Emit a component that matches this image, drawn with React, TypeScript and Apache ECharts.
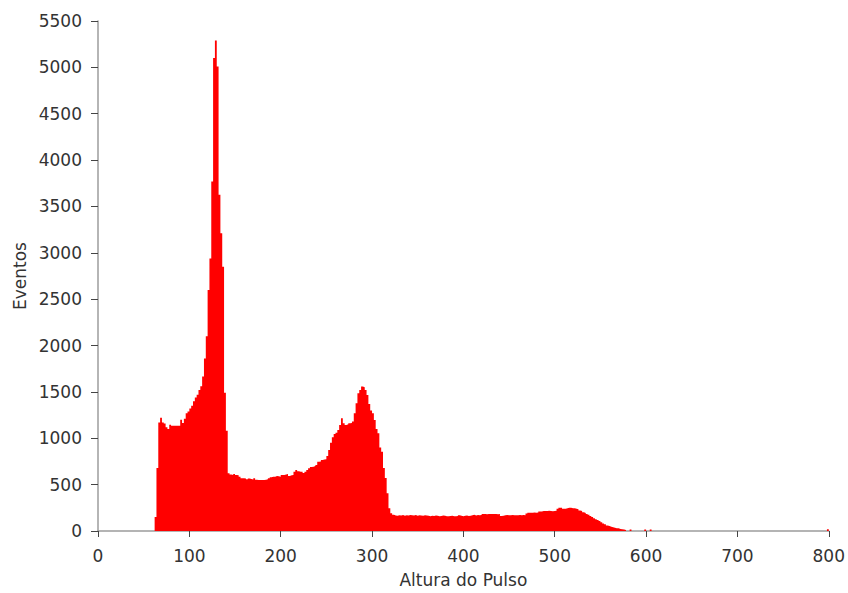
import React, { useEffect, useRef } from "react";
import * as echarts from "echarts";

// Pulse-height histogram: bins of 2 channels, starting at channel 62
const FIRST_BIN = 62;
const BIN_WIDTH = 2;

// Counts per bin, ten bins per row (row start channel in the comment)
const counts = [
  /* 62 */ 150, 680, 1170, 1220, 1170, 1160, 1120, 1100, 1145, 1135,
  /* 82 */ 1135, 1135, 1135, 1135, 1200, 1165, 1210, 1270, 1290, 1320,
  /* 102 */ 1350, 1400, 1440, 1470, 1520, 1560, 1665, 1860, 2100, 2600,
  /* 122 */ 2940, 3770, 5100, 5290, 5010, 3625, 3210, 2850, 1490, 1080,
  /* 142 */ 622, 610, 604, 614, 604, 600, 586, 568, 568, 565,
  /* 162 */ 557, 565, 560, 555, 568, 552, 550, 550, 550, 550,
  /* 182 */ 552, 557, 568, 580, 586, 586, 593, 590, 586, 604,
  /* 202 */ 604, 610, 614, 593, 600, 604, 640, 658, 645, 640,
  /* 222 */ 640, 625, 640, 658, 676, 690, 694, 701, 712, 748,
  /* 242 */ 750, 766, 770, 773, 809, 874, 953, 1011, 1047, 1060,
  /* 262 */ 1090, 1144, 1216, 1162, 1144, 1150, 1162, 1165, 1180, 1270,
  /* 282 */ 1378, 1486, 1520, 1557, 1550, 1521, 1467, 1370, 1300, 1270,
  /* 302 */ 1198, 1100, 1054, 900, 856, 680, 572, 407, 245, 191,
  /* 322 */ 175, 168, 165, 170, 168, 172, 165, 170, 168, 172,
  /* 342 */ 170, 168, 172, 165, 170, 168, 165, 170, 168, 165,
  /* 362 */ 160, 165, 162, 168, 165, 160, 162, 168, 165, 160,
  /* 382 */ 158, 162, 165, 160, 158, 162, 170, 165, 160, 165,
  /* 402 */ 168, 162, 165, 170, 175, 168, 172, 170, 173, 184,
  /* 422 */ 184, 180, 184, 184, 184, 182, 184, 180, 184, 162,
  /* 442 */ 165, 169, 172, 169, 169, 172, 169, 169, 169, 173,
  /* 462 */ 169, 173, 169, 190, 198, 198, 198, 200, 198, 200,
  /* 482 */ 209, 209, 216, 216, 216, 218, 216, 214, 216, 218,
  /* 502 */ 240, 252, 252, 241, 241, 245, 252, 252, 245, 245,
  /* 522 */ 240, 234, 220, 215, 202, 195, 184, 175, 162, 150,
  /* 542 */ 137, 128, 119, 108, 94, 82, 72, 60, 54, 47,
  /* 562 */ 40, 36, 30, 29, 22, 18, 15, 12, 0, 0,
  /* 582 */ 15, 0, 0, 0, 0, 0, 0, 0, 15, 0,
  /* 602 */ 0, 15, 0,
];

// Lone bin at the top of the range
const outlierBins = [798];
const outlierCounts = [18];

const X_MIN = 0;
const X_MAX = 800;
const X_STEP = 100;
const Y_MIN = 0;
const Y_MAX = 5500;
const Y_STEP = 500;

const FONT = "DejaVu Sans";
const TEXT_COLOR = "#333333";
const AXIS_COLOR = "#9c9c9c";
const TICK_COLOR = "#444444";
const FILL = "#ff0000";

// Step points [bin start, count]; a stepped line with "end" steps draws the histogram outline
function histogramPoints(): [number, number][] {
  const pts: [number, number][] = [];
  counts.forEach((c, i) => pts.push([FIRST_BIN + i * BIN_WIDTH, c]));
  pts.push([FIRST_BIN + counts.length * BIN_WIDTH, 0]);
  outlierBins.forEach((b, i) => {
    pts.push([b, outlierCounts[i]]);
    pts.push([b + BIN_WIDTH, 0]);
  });
  return pts;
}

const plain = (v: number) => String(v);

export default function App() {
  const ref = useRef<HTMLDivElement>(null);

  useEffect(() => {
    if (!ref.current) return;
    const chart = echarts.init(ref.current, undefined, { renderer: "svg" });
    const labelStyle = { color: TEXT_COLOR, fontSize: 17, fontFamily: FONT };

    chart.setOption({
      animation: false,
      backgroundColor: "#ffffff",
      grid: { left: 98, right: 18, top: 21, bottom: 62, containLabel: false },
      xAxis: [
        {
          type: "value",
          position: "bottom",
          min: X_MIN,
          max: X_MAX,
          interval: X_STEP,
          axisLine: { show: true, onZero: false, lineStyle: { color: AXIS_COLOR, width: 1.5 } },
          axisTick: { show: false },
          axisLabel: { show: false },
          splitLine: { show: false },
          name: "Altura do Pulso",
          nameLocation: "middle",
          nameGap: 40,
          nameTextStyle: labelStyle,
        },
        {
          type: "value",
          position: "bottom",
          offset: 5,
          min: X_MIN,
          max: X_MAX,
          interval: X_STEP,
          axisLine: { show: false },
          axisTick: { show: true, length: 6, lineStyle: { color: TICK_COLOR, width: 1 } },
          axisLabel: { ...labelStyle, margin: 11, formatter: plain },
          splitLine: { show: false },
        },
      ],
      yAxis: [
        {
          type: "value",
          position: "left",
          min: Y_MIN,
          max: Y_MAX,
          interval: Y_STEP,
          axisLine: { show: true, onZero: false, lineStyle: { color: AXIS_COLOR, width: 1.5 } },
          axisTick: { show: false },
          axisLabel: { show: false },
          splitLine: { show: false },
          name: "Eventos",
          nameLocation: "middle",
          nameGap: 70,
          nameTextStyle: labelStyle,
        },
        {
          type: "value",
          position: "left",
          offset: 4,
          min: Y_MIN,
          max: Y_MAX,
          interval: Y_STEP,
          axisLine: { show: false },
          axisTick: { show: true, length: 7, lineStyle: { color: TICK_COLOR, width: 1 } },
          axisLabel: { ...labelStyle, margin: 12, formatter: plain },
          splitLine: { show: false },
        },
      ],
      series: [
        {
          type: "line",
          xAxisIndex: 0,
          yAxisIndex: 0,
          step: "end",
          data: histogramPoints(),
          showSymbol: false,
          symbol: "none",
          lineStyle: { width: 0, color: FILL },
          areaStyle: { color: FILL, opacity: 1 },
          itemStyle: { color: FILL },
          silent: true,
        },
      ],
    });

    return () => chart.dispose();
  }, []);

  return (
    <div
      ref={ref}
      style={{ position: "fixed", left: 0, top: 0, width: 848, height: 593, background: "#ffffff" }}
    />
  );
}
